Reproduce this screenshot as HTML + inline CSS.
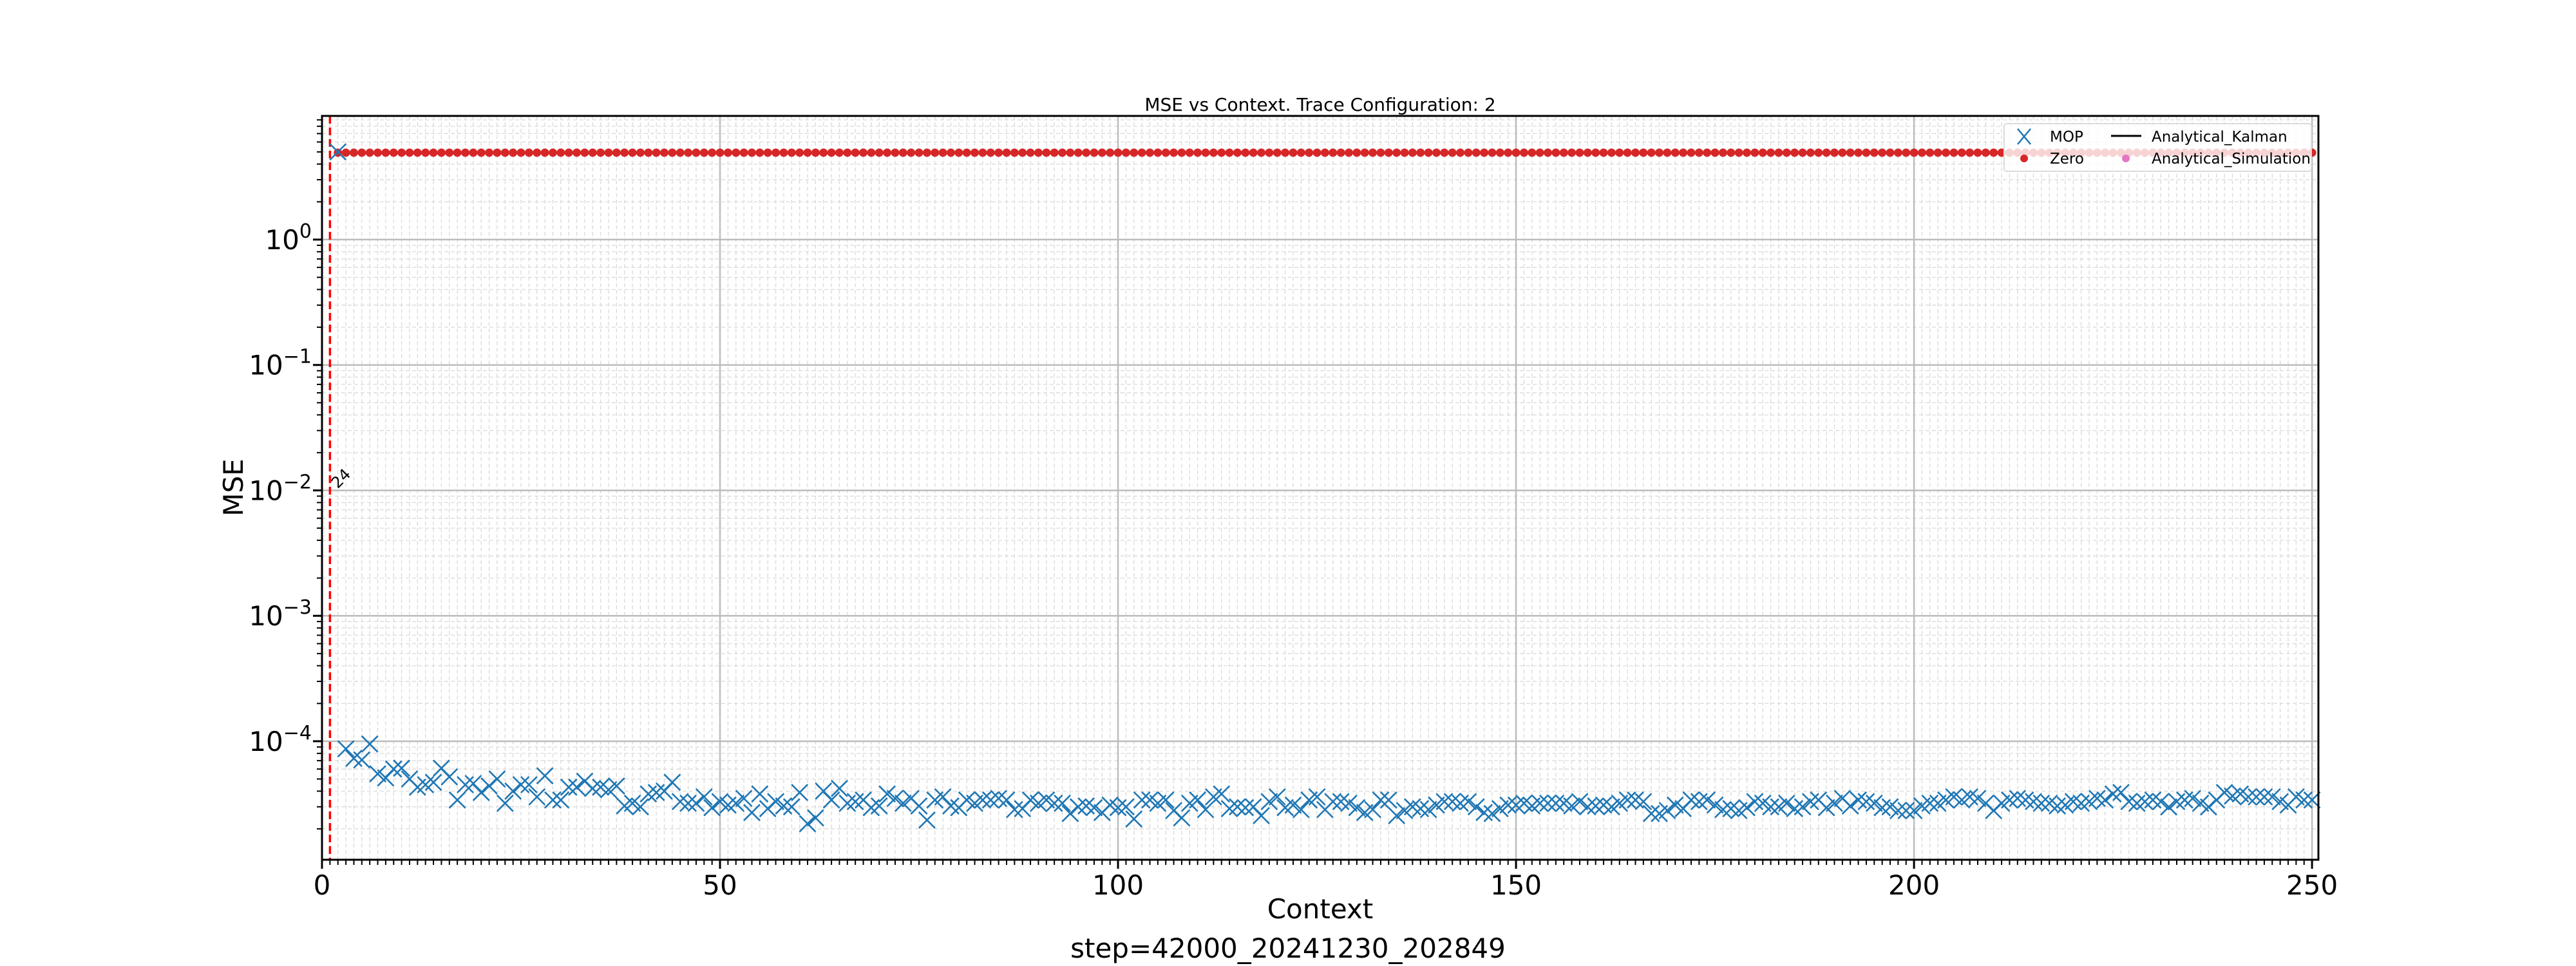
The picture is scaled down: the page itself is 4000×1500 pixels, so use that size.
<!DOCTYPE html>
<html><head><meta charset="utf-8"><style>
html,body{margin:0;padding:0;background:#fff}
svg{display:block;font-family:"DejaVu Sans","Liberation Sans",sans-serif}
</style></head><body>
<svg id="chart" width="4000" height="1500" viewBox="0 0 4000 1500" xmlns="http://www.w3.org/2000/svg">
<rect width="4000" height="1500" fill="#fff"/>
<g id="grid"></g>
<g id="marks"></g>
<g id="axes"></g>
<text x="2050" y="172" font-size="28" text-anchor="middle">MSE vs Context. Trace Configuration: 2</text>
<text x="2050" y="1426" font-size="42" text-anchor="middle">Context</text>
<text transform="translate(377,757) rotate(-90)" font-size="42" text-anchor="middle">MSE</text>
<text x="2000" y="1487" font-size="42" text-anchor="middle">step=42000_20241230_202849</text>
<g id="legend"></g>
</svg>
<script>
const contexts = [];
for (let i = 2; i <= 250; i++) contexts.push(i);
const zeroValues = contexts.map(() => 4.93);
const mopValues = [5.0,
8.7e-5,7.3e-5,7.1e-5,9.5e-5,5.5e-5,5.1e-5,6.0e-5,6.1e-5,5.0e-5,4.3e-5,4.5e-5,4.7e-5,6.1e-5,5.2e-5,3.4e-5,4.5e-5,4.6e-5,3.9e-5,4.4e-5,5.0e-5,
3.2e-5,4.0e-5,4.5e-5,4.5e-5,3.6e-5,5.3e-5,3.4e-5,3.4e-5,4.3e-5,4.3e-5,4.8e-5,4.2e-5,4.3e-5,4.1e-5,4.4e-5,3.05e-5,3.2e-5,3.0e-5,3.8e-5,3.9e-5,
4.0e-5,4.7e-5,3.3e-5,3.2e-5,3.2e-5,3.6e-5,2.95e-5,3.3e-5,3.1e-5,3.2e-5,3.5e-5,2.7e-5,3.8e-5,2.9e-5,3.3e-5,3.05e-5,3.0e-5,3.9e-5,2.2e-5,2.45e-5,
4.0e-5,3.4e-5,4.2e-5,3.2e-5,3.3e-5,3.4e-5,2.95e-5,3.05e-5,3.8e-5,3.5e-5,3.2e-5,3.5e-5,3.05e-5,2.35e-5,3.4e-5,3.6e-5,3.05e-5,2.95e-5,3.4e-5,3.2e-5,
3.4e-5,3.4e-5,3.5e-5,3.4e-5,2.85e-5,2.9e-5,3.4e-5,3.2e-5,3.4e-5,3.2e-5,3.2e-5,2.65e-5,3.0e-5,3.05e-5,2.95e-5,2.7e-5,3.1e-5,2.95e-5,3.0e-5,2.4e-5,
3.4e-5,3.4e-5,3.2e-5,3.4e-5,2.8e-5,2.45e-5,3.2e-5,3.4e-5,2.85e-5,3.6e-5,3.8e-5,2.9e-5,3.0e-5,2.95e-5,3.0e-5,2.55e-5,3.3e-5,3.6e-5,2.95e-5,3.1e-5,
2.85e-5,3.4e-5,3.6e-5,2.85e-5,3.3e-5,3.3e-5,3.2e-5,2.95e-5,2.7e-5,2.85e-5,3.4e-5,3.4e-5,2.55e-5,2.8e-5,3.0e-5,2.9e-5,2.85e-5,3.1e-5,3.3e-5,3.3e-5,
3.2e-5,3.3e-5,3.0e-5,2.7e-5,2.65e-5,2.9e-5,3.1e-5,3.1e-5,3.2e-5,3.05e-5,3.2e-5,3.2e-5,3.2e-5,3.2e-5,3.05e-5,3.3e-5,3.0e-5,3.05e-5,3.1e-5,3.0e-5,
3.2e-5,3.4e-5,3.4e-5,3.3e-5,2.65e-5,2.65e-5,2.8e-5,3.1e-5,2.9e-5,3.4e-5,3.3e-5,3.4e-5,3.1e-5,2.85e-5,2.9e-5,2.8e-5,2.95e-5,3.3e-5,3.2e-5,3.0e-5,
3.0e-5,3.2e-5,2.9e-5,3.0e-5,3.3e-5,3.4e-5,2.95e-5,3.2e-5,3.5e-5,3.05e-5,3.4e-5,3.3e-5,3.2e-5,2.95e-5,3.0e-5,2.8e-5,2.8e-5,2.8e-5,3.05e-5,3.2e-5,
3.2e-5,3.4e-5,3.6e-5,3.4e-5,3.6e-5,3.5e-5,3.2e-5,2.8e-5,3.2e-5,3.4e-5,3.5e-5,3.4e-5,3.3e-5,3.2e-5,3.2e-5,3.05e-5,3.1e-5,3.3e-5,3.2e-5,3.3e-5,
3.5e-5,3.4e-5,3.8e-5,3.9e-5,3.3e-5,3.2e-5,3.3e-5,3.4e-5,3.3e-5,2.99e-5,3.3e-5,3.4e-5,3.5e-5,3.2e-5,2.99e-5,3.4e-5,3.9e-5,3.65e-5,3.8e-5,3.6e-5,
3.6e-5,3.6e-5,3.6e-5,3.3e-5,3.1e-5,3.6e-5,3.4e-5,3.4e-5,3.2e-5];
const xTickValues = [0, 50, 100, 150, 200, 250];
const xTickLabels = ["0", "50", "100", "150", "200", "250"];
const yTickExponents = [0, -1, -2, -3, -4];
const vlineX = 1;
const vlineLabel = "24";
const xMin = 0, xMax = 250.8, yMin = 1.135e-5, yMax = 9.68;

const L = 500, R = 3600, T = 180, B = 1335;
const NS = "http://www.w3.org/2000/svg";
function xs(v) { return L + (v - xMin) / (xMax - xMin) * (R - L); }
function ys(v) { return T + (Math.log10(yMax) - Math.log10(v)) / (Math.log10(yMax) - Math.log10(yMin)) * (B - T); }
function mk(tag, attrs, parent) {
  const e = document.createElementNS(NS, tag);
  for (const k in attrs) e.setAttribute(k, attrs[k]);
  parent.appendChild(e);
  return e;
}
const grid = document.getElementById('grid');
const marks = document.getElementById('marks');
const axes = document.getElementById('axes');

for (let v = 1; v <= 250; v++) {
  if (v % 50 === 0) continue;
  const g = mk('line', {x1: xs(v), x2: xs(v), y1: T, y2: B, stroke: '#dadada', 'stroke-width': 1.3, 'stroke-dasharray': '6 4'}, grid);
  
  
  const t = mk('line', {x1: xs(v), x2: xs(v), y1: B, y2: B + 8, stroke: '#000', 'stroke-width': 2}, axes);
  
  
}
for (let e = -5; e <= 0; e++) {
  for (let m = 2; m <= 9; m++) {
    const v = m * Math.pow(10, e);
    if (v < yMin || v > yMax) continue;
    const g = mk('line', {x1: L, x2: R, y1: ys(v), y2: ys(v), stroke: '#dadada', 'stroke-width': 1.3, 'stroke-dasharray': '6 4'}, grid);
    
    
    const t = mk('line', {x1: L - 8, x2: L, y1: ys(v), y2: ys(v), stroke: '#000', 'stroke-width': 2}, axes);
    
    
  }
}
xTickValues.forEach((v, i) => {
  const g = mk('line', {x1: xs(v), x2: xs(v), y1: T, y2: B, stroke: '#bcbcbc', 'stroke-width': 2.5}, grid);
  
  
  const t = mk('line', {x1: xs(v), x2: xs(v), y1: B, y2: B + 14, stroke: '#000', 'stroke-width': 3}, axes);
  
  
  const tx = mk('text', {x: xs(v), y: B + 54, 'font-size': 42, 'text-anchor': 'middle'}, axes);
  tx.textContent = xTickLabels[i];
  
  
});
yTickExponents.forEach(e => {
  const v = Math.pow(10, e);
  const g = mk('line', {x1: L, x2: R, y1: ys(v), y2: ys(v), stroke: '#bcbcbc', 'stroke-width': 2.5}, grid);
  
  
  const t = mk('line', {x1: L - 14, x2: L, y1: ys(v), y2: ys(v), stroke: '#000', 'stroke-width': 3}, axes);
  
  
  const tx = mk('text', {x: 484, y: ys(v) + 15, 'font-size': 42, 'text-anchor': 'end'}, axes);
  
  
  const a = document.createElementNS(NS, 'tspan'); a.textContent = '10'; tx.appendChild(a);
  const b = document.createElementNS(NS, 'tspan'); b.setAttribute('dy', -18); b.setAttribute('font-size', 30);
  b.textContent = e === 0 ? '0' : '\u2212' + (-e); tx.appendChild(b);
});

const vl = mk('line', {x1: xs(vlineX), x2: xs(vlineX), y1: T, y2: B, stroke: '#ff0000', 'stroke-width': 3.5, 'stroke-dasharray': '12 6'}, marks);


const vt = mk('text', {transform: `translate(${xs(vlineX) + 12},${ys(0.01) - 2}) rotate(-45)`, 'font-size': 24}, marks);
vt.textContent = vlineLabel;



contexts.forEach((c, i) => {
  const d = mk('circle', {cx: xs(c), cy: ys(zeroValues[i]), r: 6.5, fill: '#d62728'}, marks);
  
  
});
contexts.forEach((c, i) => {
  const x = xs(c), y = ys(mopValues[i]), h = 12.5;
  const p = mk('path', {d: `M${x-h},${y-h}L${x+h},${y+h}M${x-h},${y+h}L${x+h},${y-h}`, stroke: '#1f77b4', 'stroke-width': 2.6, fill: 'none'}, marks);
  
  
});

const sp = mk('rect', {x: L, y: T, width: R - L, height: B - T, fill: 'none', stroke: '#000', 'stroke-width': 3}, axes);



const lg = document.getElementById('legend');
const box = mk('rect', {x: 3112, y: 192, width: 477, height: 74, rx: 4, fill: 'rgba(255,255,255,0.8)', stroke: '#dcdcdc', 'stroke-width': 2}, lg);


const e1 = mk('path', {d: 'M3133,200L3153,224M3133,224L3153,200', stroke: '#1f77b4', 'stroke-width': 2.5}, lg);


const e2 = mk('circle', {cx: 3143, cy: 246, r: 6, fill: '#d62728'}, lg);


const e3 = mk('line', {x1: 3278, x2: 3325, y1: 211, y2: 211, stroke: '#000', 'stroke-width': 3}, lg);


const e4 = mk('circle', {cx: 3301, cy: 246, r: 6, fill: '#e377c2'}, lg);


[["MOP", 3183, 220, 'legend-mop-label'], ["Zero", 3183, 254, 'legend-zero-label'], ["Analytical_Kalman", 3341, 220, 'legend-kalman-label'], ["Analytical_Simulation", 3341, 254, 'legend-simulation-label']].forEach(a => {
  const t = mk('text', {x: a[1], y: a[2], 'font-size': 23}, lg);
  t.textContent = a[0];
  
  
});
</script>
</body></html>
